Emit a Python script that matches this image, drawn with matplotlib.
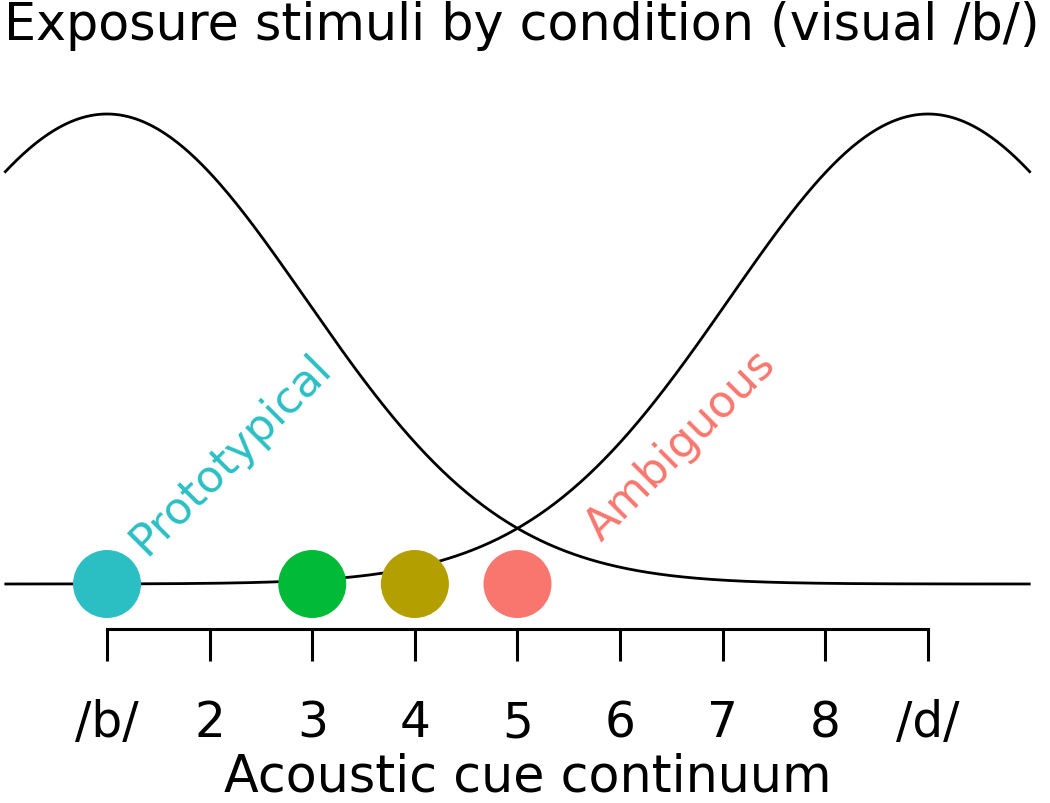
import numpy as np
import matplotlib
matplotlib.use("Agg")
import matplotlib.pyplot as plt

# Data
cat_means = [1, 9]          # /b/ and /d/ category means
cat_var = 3.75
stim_x = [1, 3, 4, 5]
stim_colors = ["#2BBFC4", "#00BA38", "#B39F00", "#F8766D"]
tick_pos = [1, 2, 3, 4, 5, 6, 7, 8, 9]
tick_labels = ["/b/", "2", "3", "4", "5", "6", "7", "8", "/d/"]
ann_text = ["Prototypical", "Ambiguous"]
ann_x = [1.38, 5.82]
ann_y = [0.06, 0.09]
ann_colors = ["#2BBFC4", "#F8766D"]

W, H = 1050, 804
fig = plt.figure(figsize=(W / 100, H / 100), dpi=100)
plt.rcParams['font.family'] = ['DejaVu Sans']

# axes: x 0..10 maps to px 4.4..1030.6 ; y 0 -> 585px, 1 -> 115px
x0, x1 = 4.4, 1030.6
ylo, yhi = -0.2, 1.05
py_lo = 585 + 0.2 * 470
py_hi = 585 - 1.05 * 470
ax = fig.add_axes([x0 / W, 1 - py_lo / H, (x1 - x0) / W, (py_lo - py_hi) / H])
ax.set_xlim(0, 10)
ax.set_ylim(ylo, yhi)

xs = np.linspace(0, 10, 500)
for m in cat_means:
    ax.plot(xs, np.exp(-(xs - m) ** 2 / (2 * cat_var)), color="black", lw=2.0,
            solid_capstyle="butt", clip_on=False)

ax.scatter(stim_x, [0] * len(stim_x), s=(68 * 0.72) ** 2, c=stim_colors,
           zorder=3, linewidths=0, clip_on=False)

for t, x, y, c in zip(ann_text, ann_x, ann_y, ann_colors):
    ax.text(x, y, t, rotation=45, rotation_mode="anchor", ha="left",
            va="baseline", color=c, fontsize=32)

for s in ["top", "right", "left"]:
    ax.spines[s].set_visible(False)
ax.spines["bottom"].set_position(("data", -45 / 470))
ax.spines["bottom"].set_bounds(1, 9)
ax.spines["bottom"].set_linewidth(2.2)
ax.set_yticks([])
ax.set_xticks(tick_pos)
ax.set_xticklabels(tick_labels, fontsize=35)
ax.tick_params(axis="x", direction="out", length=23, width=2.2, pad=27)

fig.text(0.503, 1 - 792 / H, "Acoustic cue continuum", ha="center", va="baseline",
         fontsize=36.5)
fig.text(0.497, 1 - 40 / H, "Exposure stimuli by condition (visual /b/)",
         ha="center", va="baseline", fontsize=36.5)

fig.savefig("out.png", dpi=100)
